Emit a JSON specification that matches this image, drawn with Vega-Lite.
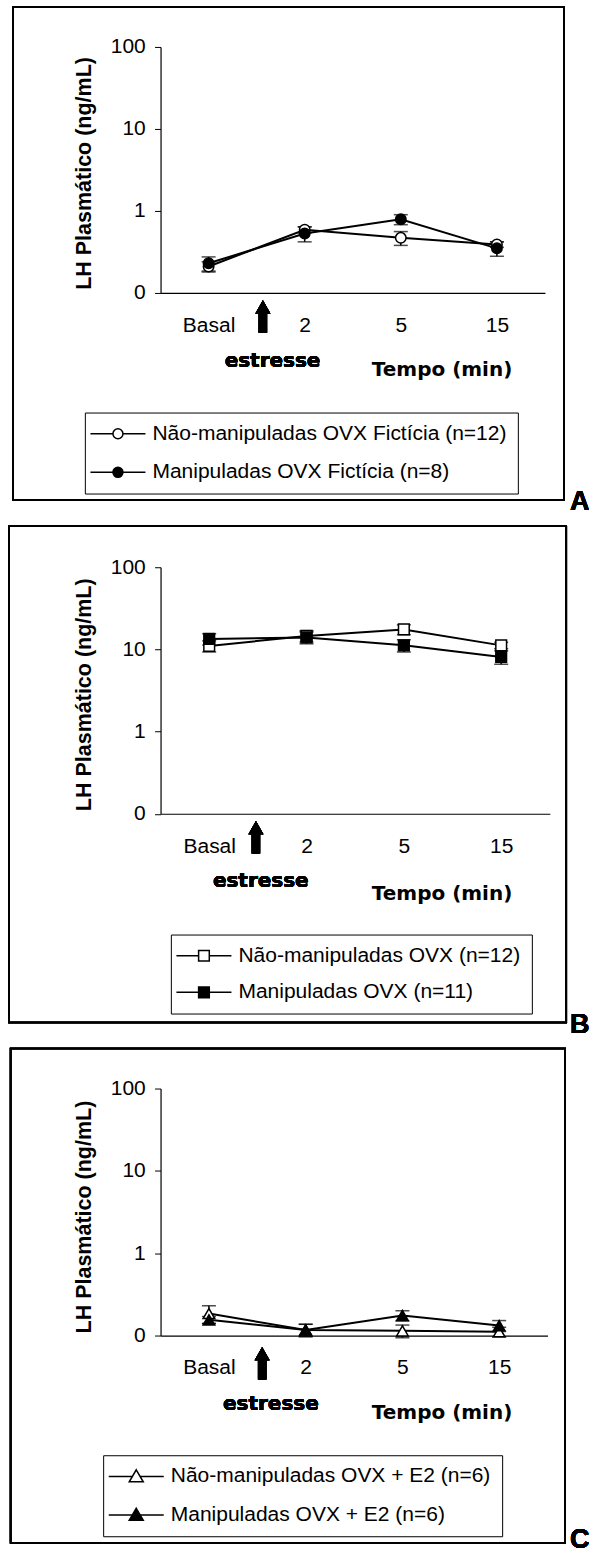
{
  "$schema": "https://vega.github.io/schema/vega-lite/v6.json",
  "background": "white",
  "padding": {"left": 7.55, "top": 5.95, "right": 0, "bottom": 0},
  "bounds": "flush",
  "spacing": 274.3,
  "config": {"view": {"stroke": null}, "font": "Liberation Sans"},
  "resolve": {
    "scale": {"x": "independent", "y": "independent", "fill": "independent"},
    "legend": {"fill": "independent"},
    "axis": {"x": "independent", "y": "independent"}
  },
  "vconcat": [
    {
      "width": 384.4,
      "height": 246,
      "data": {"values": [
        {"grupo": "Não-manipuladas OVX Fictícia (n=12)", "idx": 0, "tempo": "Basal", "lh": 0.21, "ep": 0.03},
        {"grupo": "Não-manipuladas OVX Fictícia (n=12)", "idx": 1, "tempo": "2", "lh": 0.59, "ep": 0.05},
        {"grupo": "Não-manipuladas OVX Fictícia (n=12)", "idx": 2, "tempo": "5", "lh": 0.47, "ep": 0.09},
        {"grupo": "Não-manipuladas OVX Fictícia (n=12)", "idx": 3, "tempo": "15", "lh": 0.39, "ep": 0.03},
        {"grupo": "Manipuladas OVX Fictícia (n=8)", "idx": 0, "tempo": "Basal", "lh": 0.23, "ep": 0.045},
        {"grupo": "Manipuladas OVX Fictícia (n=8)", "idx": 1, "tempo": "2", "lh": 0.53, "ep": 0.11},
        {"grupo": "Manipuladas OVX Fictícia (n=8)", "idx": 2, "tempo": "5", "lh": 0.79, "ep": 0.11},
        {"grupo": "Manipuladas OVX Fictícia (n=8)", "idx": 3, "tempo": "15", "lh": 0.35, "ep": 0.07}
      ]},
      "layer": [
        {
          "mark": {"type": "rect", "fillOpacity": 0, "stroke": "black", "strokeWidth": 1.5},
          "encoding": {
            "x": {"datum": -2.037, "type": "quantitative", "scale": {"domain": [-0.5, 3.5], "nice": false, "zero": false}},
            "x2": {"datum": 3.697},
            "y": {"datum": 307.4, "type": "quantitative", "scale": {"type": "log", "domain": [0.1, 100], "nice": false}},
            "y2": {"datum": 0.0002965}
          }
        },
        {
          "mark": {"type": "errorbar", "orient": "vertical", "color": "black", "thickness": 1.5, "ticks": {"size": 14}},
          "encoding": {
            "x": {"field": "idx", "type": "quantitative", "title": "Tempo (min)", "scale": {"domain": [-0.5, 3.5], "nice": false, "zero": false}},
            "y": {"field": "lh", "type": "quantitative", "title": "LH Plasmático (ng/mL)", "scale": {"type": "log", "domain": [0.1, 100], "nice": false}},
            "yError": {"field": "ep"},
            "detail": {"field": "grupo"}
          }
        },
        {
          "mark": {"type": "line", "color": "black", "strokeWidth": 2},
          "encoding": {
            "x": {"field": "idx", "type": "quantitative", "title": "Tempo (min)", "scale": {"domain": [-0.5, 3.5], "nice": false, "zero": false},
              "axis": {"values": [0, 1, 2, 3], "labelExpr": "['Basal','2','5','15'][datum.value]", "ticks": false, "tickSize": 0, "grid": false,
                "domainColor": "black", "domainWidth": 1.2, "labelFont": "Liberation Sans", "labelFontSize": 21, "labelColor": "black",
                "labelPadding": 21.4, "labelFlush": false, "labelOverlap": false,
                "title": "Tempo (min)", "titleFont": "DejaVu Sans", "titleFontSize": 20, "titleFontWeight": "bold", "titleColor": "black",
                "titleX": 281, "titleY": 83, "titleBaseline": "alphabetic", "titleAlign": "center"}},
            "y": {"field": "lh", "type": "quantitative", "title": "LH Plasmático (ng/mL)", "scale": {"type": "log", "domain": [0.1, 100], "nice": false},
              "axis": {"values": [0.1, 1, 10, 100], "labelExpr": "datum.value < 0.5 ? '0' : format(datum.value, '.0f')", "grid": false,
                "tickSize": 6, "tickColor": "black", "tickWidth": 1, "domainColor": "black", "domainWidth": 1.2,
                "labelFont": "Liberation Sans", "labelFontSize": 21, "labelColor": "black", "labelPadding": 9.3, "labelFlush": false, "labelOverlap": false,
                "title": "LH Plasmático (ng/mL)", "titleFont": "Liberation Sans", "titleFontSize": 21.5, "titleFontWeight": "bold", "titleColor": "black",
                "titleX": -69.6, "titleY": 126, "titleBaseline": "alphabetic", "titleAlign": "center"}},
            "detail": {"field": "grupo"}
          }
        },
        {
          "mark": {"type": "point", "shape": "circle", "size": 110, "filled": true, "stroke": "black", "strokeWidth": 1.5, "opacity": 1},
          "encoding": {
            "x": {"field": "idx", "type": "quantitative", "title": "Tempo (min)", "scale": {"domain": [-0.5, 3.5], "nice": false, "zero": false}},
            "y": {"field": "lh", "type": "quantitative", "title": "LH Plasmático (ng/mL)", "scale": {"type": "log", "domain": [0.1, 100], "nice": false}},
            "fill": {"field": "grupo", "type": "nominal",
              "scale": {"domain": ["Não-manipuladas OVX Fictícia (n=12)", "Manipuladas OVX Fictícia (n=8)"], "range": ["white", "black"]},
              "legend": {"orient": "none", "legendX": -75.7, "legendY": 365.6, "title": null, "strokeColor": "black", "fillColor": "white",
                "padding": 10.7, "rowPadding": 16.6, "labelFont": "Liberation Sans", "labelFontSize": 21, "labelColor": "black", "labelLimit": 1000,
                "labelOffset": 35.9, "symbolType": "M-2.6,0L1.15,0M2.817,0L6.567,0M1.15,0A0.833,0.833,0,1,1,2.817,0A0.833,0.833,0,1,1,1.15,0Z",
                "symbolSize": 144, "symbolStrokeColor": "black", "symbolStrokeWidth": 1.5, "symbolOpacity": 1}}
          }
        },
        {
          "mark": {"type": "point", "shape": "M-0.42,1.63L0.42,1.63L0.42,-0.3L0.75,-0.3L0,-1.63L-0.75,-0.3L-0.42,-0.3Z", "size": 400, "filled": true, "fill": "black", "strokeWidth": 0, "opacity": 1},
          "encoding": {
            "x": {"datum": 0.565, "type": "quantitative", "scale": {"domain": [-0.5, 3.5], "nice": false, "zero": false}},
            "y": {"datum": 0.05157, "type": "quantitative", "scale": {"type": "log", "domain": [0.1, 100], "nice": false}}
          }
        },
        {
          "mark": {"type": "text", "text": "estresse", "font": "DejaVu Sans", "fontSize": 20, "fontWeight": "bold", "align": "center", "baseline": "alphabetic", "color": "black"},
          "encoding": {
            "x": {"datum": 0.665, "type": "quantitative", "scale": {"domain": [-0.5, 3.5], "nice": false, "zero": false}},
            "y": {"datum": 0.01253, "type": "quantitative", "scale": {"type": "log", "domain": [0.1, 100], "nice": false}}
          }
        },
        {
          "mark": {"type": "text", "text": "A", "font": "Liberation Sans", "fontSize": 27, "fontWeight": "bold", "align": "left", "baseline": "alphabetic", "color": "black"},
          "encoding": {
            "x": {"datum": 3.761, "type": "quantitative", "scale": {"domain": [-0.5, 3.5], "nice": false, "zero": false}},
            "y": {"datum": 0.0002239, "type": "quantitative", "scale": {"type": "log", "domain": [0.1, 100], "nice": false}}
          }
        }
      ]
    },
    {
      "width": 389.3,
      "height": 246.5,
      "data": {"values": [
        {"grupo": "Não-manipuladas OVX (n=12)", "idx": 0, "tempo": "Basal", "lh": 11.0, "ep": 1.7},
        {"grupo": "Não-manipuladas OVX (n=12)", "idx": 1, "tempo": "2", "lh": 14.6, "ep": 2.3},
        {"grupo": "Não-manipuladas OVX (n=12)", "idx": 2, "tempo": "5", "lh": 17.5, "ep": 2.4},
        {"grupo": "Não-manipuladas OVX (n=12)", "idx": 3, "tempo": "15", "lh": 11.2, "ep": 1.0},
        {"grupo": "Manipuladas OVX (n=11)", "idx": 0, "tempo": "Basal", "lh": 13.4, "ep": 2.1},
        {"grupo": "Manipuladas OVX (n=11)", "idx": 1, "tempo": "2", "lh": 14.0, "ep": 2.3},
        {"grupo": "Manipuladas OVX (n=11)", "idx": 2, "tempo": "5", "lh": 11.2, "ep": 1.9},
        {"grupo": "Manipuladas OVX (n=11)", "idx": 3, "tempo": "15", "lh": 8.1, "ep": 1.5}
      ]},
      "layer": [
        {
          "mark": {"type": "rect", "fillOpacity": 0, "stroke": "black", "strokeWidth": 1.5},
          "encoding": {
            "x": {"datum": -2.059, "type": "quantitative", "scale": {"domain": [-0.5, 3.5], "nice": false, "zero": false}},
            "x2": {"datum": 3.669},
            "y": {"datum": 315.5, "type": "quantitative", "scale": {"type": "log", "domain": [0.1, 100], "nice": false}},
            "y2": {"datum": 0.0002877}
          }
        },
        {
          "mark": {"type": "errorbar", "orient": "vertical", "color": "black", "thickness": 1.5, "ticks": {"size": 14}},
          "encoding": {
            "x": {"field": "idx", "type": "quantitative", "title": "Tempo (min)", "scale": {"domain": [-0.5, 3.5], "nice": false, "zero": false}},
            "y": {"field": "lh", "type": "quantitative", "title": "LH Plasmático (ng/mL)", "scale": {"type": "log", "domain": [0.1, 100], "nice": false}},
            "yError": {"field": "ep"},
            "detail": {"field": "grupo"}
          }
        },
        {
          "mark": {"type": "line", "color": "black", "strokeWidth": 2},
          "encoding": {
            "x": {"field": "idx", "type": "quantitative", "title": "Tempo (min)", "scale": {"domain": [-0.5, 3.5], "nice": false, "zero": false},
              "axis": {"values": [0, 1, 2, 3], "labelExpr": "['Basal','2','5','15'][datum.value]", "ticks": false, "tickSize": 0, "grid": false,
                "domainColor": "black", "domainWidth": 1.2, "labelFont": "Liberation Sans", "labelFontSize": 21, "labelColor": "black",
                "labelPadding": 21.4, "labelFlush": false, "labelOverlap": false,
                "title": "Tempo (min)", "titleFont": "DejaVu Sans", "titleFontSize": 20, "titleFontWeight": "bold", "titleColor": "black",
                "titleX": 281, "titleY": 86, "titleBaseline": "alphabetic", "titleAlign": "center"}},
            "y": {"field": "lh", "type": "quantitative", "title": "LH Plasmático (ng/mL)", "scale": {"type": "log", "domain": [0.1, 100], "nice": false},
              "axis": {"values": [0.1, 1, 10, 100], "labelExpr": "datum.value < 0.5 ? '0' : format(datum.value, '.0f')", "grid": false,
                "tickSize": 6, "tickColor": "black", "tickWidth": 1, "domainColor": "black", "domainWidth": 1.2,
                "labelFont": "Liberation Sans", "labelFontSize": 21, "labelColor": "black", "labelPadding": 9.3, "labelFlush": false, "labelOverlap": false,
                "title": "LH Plasmático (ng/mL)", "titleFont": "Liberation Sans", "titleFontSize": 21.5, "titleFontWeight": "bold", "titleColor": "black",
                "titleX": -69.6, "titleY": 127, "titleBaseline": "alphabetic", "titleAlign": "center"}},
            "detail": {"field": "grupo"}
          }
        },
        {
          "mark": {"type": "point", "shape": "square", "size": 115, "filled": true, "stroke": "black", "strokeWidth": 1.5, "opacity": 1},
          "encoding": {
            "x": {"field": "idx", "type": "quantitative", "title": "Tempo (min)", "scale": {"domain": [-0.5, 3.5], "nice": false, "zero": false}},
            "y": {"field": "lh", "type": "quantitative", "title": "LH Plasmático (ng/mL)", "scale": {"type": "log", "domain": [0.1, 100], "nice": false}},
            "fill": {"field": "grupo", "type": "nominal",
              "scale": {"domain": ["Não-manipuladas OVX (n=12)", "Manipuladas OVX (n=11)"], "range": ["white", "black"]},
              "legend": {"orient": "none", "legendX": 10.3, "legendY": 367.3, "title": null, "strokeColor": "black", "fillColor": "white",
                "padding": 10.7, "rowPadding": 14.6, "labelFont": "Liberation Sans", "labelFontSize": 21, "labelColor": "black", "labelLimit": 1000,
                "labelOffset": 35.9, "symbolType": "M-2.6,0L1.094,0M2.874,0L6.567,0M1.094,-0.89L2.874,-0.89L2.874,0.89L1.094,0.89Z",
                "symbolSize": 144, "symbolStrokeColor": "black", "symbolStrokeWidth": 1.5, "symbolOpacity": 1}}
          }
        },
        {
          "mark": {"type": "point", "shape": "M-0.42,1.63L0.42,1.63L0.42,-0.3L0.75,-0.3L0,-1.63L-0.75,-0.3L-0.42,-0.3Z", "size": 400, "filled": true, "fill": "black", "strokeWidth": 0, "opacity": 1},
          "encoding": {
            "x": {"datum": 0.48, "type": "quantitative", "scale": {"domain": [-0.5, 3.5], "nice": false, "zero": false}},
            "y": {"datum": 0.0518, "type": "quantitative", "scale": {"type": "log", "domain": [0.1, 100], "nice": false}}
          }
        },
        {
          "mark": {"type": "text", "text": "estresse", "font": "DejaVu Sans", "fontSize": 20, "fontWeight": "bold", "align": "center", "baseline": "alphabetic", "color": "black"},
          "encoding": {
            "x": {"datum": 0.53, "type": "quantitative", "scale": {"domain": [-0.5, 3.5], "nice": false, "zero": false}},
            "y": {"datum": 0.01285, "type": "quantitative", "scale": {"type": "log", "domain": [0.1, 100], "nice": false}}
          }
        },
        {
          "mark": {"type": "text", "text": "B", "font": "Liberation Sans", "fontSize": 27, "fontWeight": "bold", "align": "left", "baseline": "alphabetic", "color": "black"},
          "encoding": {
            "x": {"datum": 3.707, "type": "quantitative", "scale": {"domain": [-0.5, 3.5], "nice": false, "zero": false}},
            "y": {"datum": 0.0002173, "type": "quantitative", "scale": {"type": "log", "domain": [0.1, 100], "nice": false}}
          }
        }
      ]
    },
    {
      "width": 387,
      "height": 247,
      "data": {"values": [
        {"grupo": "Não-manipuladas OVX + E2 (n=6)", "idx": 0, "tempo": "Basal", "lh": 0.185, "ep": 0.045},
        {"grupo": "Não-manipuladas OVX + E2 (n=6)", "idx": 1, "tempo": "2", "lh": 0.117, "ep": 0.02},
        {"grupo": "Não-manipuladas OVX + E2 (n=6)", "idx": 2, "tempo": "5", "lh": 0.114, "ep": 0.02},
        {"grupo": "Não-manipuladas OVX + E2 (n=6)", "idx": 3, "tempo": "15", "lh": 0.111, "ep": 0.015},
        {"grupo": "Manipuladas OVX + E2 (n=6)", "idx": 0, "tempo": "Basal", "lh": 0.155, "ep": 0.015},
        {"grupo": "Manipuladas OVX + E2 (n=6)", "idx": 1, "tempo": "2", "lh": 0.117, "ep": 0.02},
        {"grupo": "Manipuladas OVX + E2 (n=6)", "idx": 2, "tempo": "5", "lh": 0.175, "ep": 0.025},
        {"grupo": "Manipuladas OVX + E2 (n=6)", "idx": 3, "tempo": "15", "lh": 0.132, "ep": 0.02}
      ]},
      "layer": [
        {
          "mark": {"type": "rect", "fillOpacity": 0, "stroke": "black", "strokeWidth": 1.5},
          "encoding": {
            "x": {"datum": -2.05, "type": "quantitative", "scale": {"domain": [-0.5, 3.5], "nice": false, "zero": false}},
            "x2": {"datum": 3.683},
            "y": {"datum": 306.1, "type": "quantitative", "scale": {"type": "log", "domain": [0.1, 100], "nice": false}},
            "y2": {"datum": 0.000304}
          }
        },
        {
          "mark": {"type": "errorbar", "orient": "vertical", "color": "black", "thickness": 1.5, "ticks": {"size": 14}},
          "encoding": {
            "x": {"field": "idx", "type": "quantitative", "title": "Tempo (min)", "scale": {"domain": [-0.5, 3.5], "nice": false, "zero": false}},
            "y": {"field": "lh", "type": "quantitative", "title": "LH Plasmático (ng/mL)", "scale": {"type": "log", "domain": [0.1, 100], "nice": false}},
            "yError": {"field": "ep"},
            "detail": {"field": "grupo"}
          }
        },
        {
          "mark": {"type": "line", "color": "black", "strokeWidth": 2},
          "encoding": {
            "x": {"field": "idx", "type": "quantitative", "title": "Tempo (min)", "scale": {"domain": [-0.5, 3.5], "nice": false, "zero": false},
              "axis": {"values": [0, 1, 2, 3], "labelExpr": "['Basal','2','5','15'][datum.value]", "ticks": false, "tickSize": 0, "grid": false,
                "domainColor": "black", "domainWidth": 1.2, "labelFont": "Liberation Sans", "labelFontSize": 21, "labelColor": "black",
                "labelPadding": 21.4, "labelFlush": false, "labelOverlap": false,
                "title": "Tempo (min)", "titleFont": "DejaVu Sans", "titleFontSize": 20, "titleFontWeight": "bold", "titleColor": "black",
                "titleX": 281, "titleY": 83, "titleBaseline": "alphabetic", "titleAlign": "center"}},
            "y": {"field": "lh", "type": "quantitative", "title": "LH Plasmático (ng/mL)", "scale": {"type": "log", "domain": [0.1, 100], "nice": false},
              "axis": {"values": [0.1, 1, 10, 100], "labelExpr": "datum.value < 0.5 ? '0' : format(datum.value, '.0f')", "grid": false,
                "tickSize": 6, "tickColor": "black", "tickWidth": 1, "domainColor": "black", "domainWidth": 1.2,
                "labelFont": "Liberation Sans", "labelFontSize": 21, "labelColor": "black", "labelPadding": 9.3, "labelFlush": false, "labelOverlap": false,
                "title": "LH Plasmático (ng/mL)", "titleFont": "Liberation Sans", "titleFontSize": 21.5, "titleFontWeight": "bold", "titleColor": "black",
                "titleX": -69.6, "titleY": 128, "titleBaseline": "alphabetic", "titleAlign": "center"}},
            "detail": {"field": "grupo"}
          }
        },
        {
          "mark": {"type": "point", "shape": "triangle-up", "size": 135, "filled": true, "stroke": "black", "strokeWidth": 1.5, "opacity": 1},
          "encoding": {
            "x": {"field": "idx", "type": "quantitative", "title": "Tempo (min)", "scale": {"domain": [-0.5, 3.5], "nice": false, "zero": false}},
            "y": {"field": "lh", "type": "quantitative", "title": "LH Plasmático (ng/mL)", "scale": {"type": "log", "domain": [0.1, 100], "nice": false}},
            "fill": {"field": "grupo", "type": "nominal",
              "scale": {"domain": ["Não-manipuladas OVX + E2 (n=6)", "Manipuladas OVX + E2 (n=6)"], "range": ["white", "black"]},
              "legend": {"orient": "none", "legendX": -57.4, "legendY": 366.7, "title": null, "strokeColor": "black", "fillColor": "white",
                "padding": 10.7, "rowPadding": 16.5, "labelFont": "Liberation Sans", "labelFontSize": 21, "labelColor": "black", "labelLimit": 1000,
                "labelOffset": 35.9, "symbolType": "M-2.6,0L1.342,0M2.625,0L6.567,0M1.984,-1.1L3.15,0.9L0.817,0.9Z",
                "symbolSize": 144, "symbolStrokeColor": "black", "symbolStrokeWidth": 1.5, "symbolOpacity": 1}}
          }
        },
        {
          "mark": {"type": "point", "shape": "M-0.42,1.63L0.42,1.63L0.42,-0.3L0.75,-0.3L0,-1.63L-0.75,-0.3L-0.42,-0.3Z", "size": 400, "filled": true, "fill": "black", "strokeWidth": 0, "opacity": 1},
          "encoding": {
            "x": {"datum": 0.55, "type": "quantitative", "scale": {"domain": [-0.5, 3.5], "nice": false, "zero": false}},
            "y": {"datum": 0.0461, "type": "quantitative", "scale": {"type": "log", "domain": [0.1, 100], "nice": false}}
          }
        },
        {
          "mark": {"type": "text", "text": "estresse", "font": "DejaVu Sans", "fontSize": 20, "fontWeight": "bold", "align": "center", "baseline": "alphabetic", "color": "black"},
          "encoding": {
            "x": {"datum": 0.64, "type": "quantitative", "scale": {"domain": [-0.5, 3.5], "nice": false, "zero": false}},
            "y": {"datum": 0.01256, "type": "quantitative", "scale": {"type": "log", "domain": [0.1, 100], "nice": false}}
          }
        },
        {
          "mark": {"type": "text", "text": "C", "font": "Liberation Sans", "fontSize": 27, "fontWeight": "bold", "align": "left", "baseline": "alphabetic", "color": "black"},
          "encoding": {
            "x": {"datum": 3.733, "type": "quantitative", "scale": {"domain": [-0.5, 3.5], "nice": false, "zero": false}},
            "y": {"datum": 0.000265, "type": "quantitative", "scale": {"type": "log", "domain": [0.1, 100], "nice": false}}
          }
        }
      ]
    }
  ]
}
